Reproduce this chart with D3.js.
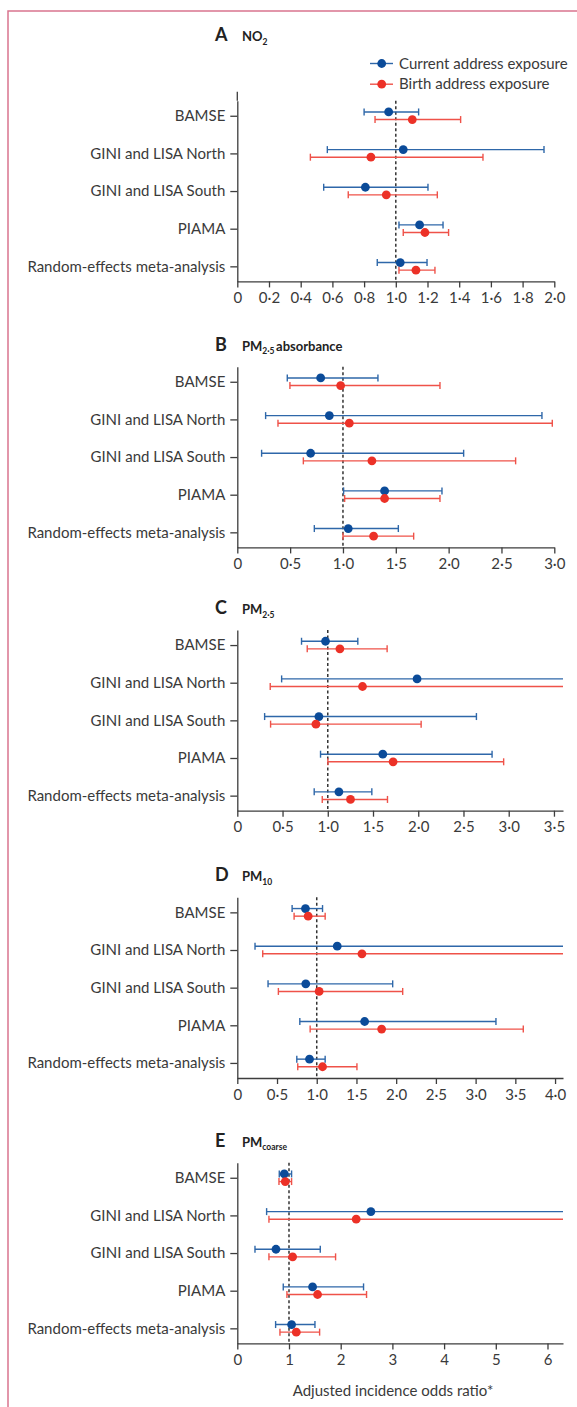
<!DOCTYPE html>
<html>
<head>
<meta charset="utf-8">
<script src="https://cdn.jsdelivr.net/npm/d3@7"></script>
<style>
  body { margin: 0; background: #fff; }
  svg { display: block; font-family: Lato, 'Open Sans', sans-serif; }
</style>
</head>
<body>
<script>
/* global d3 */

const categories = [
  'BAMSE',
  'GINI and LISA North',
  'GINI and LISA South',
  'PIAMA',
  'Random-effects meta-analysis',
];

// [odds ratio, lower CI, upper CI] per category
const no2Current = [[0.955, 0.80, 1.144], [1.047, 0.568, 1.935], [0.808, 0.545, 1.203], [1.15, 1.02, 1.298], [1.028, 0.883, 1.197]];
const no2Birth = [[1.104, 0.869, 1.409], [0.843, 0.461, 1.55], [0.94, 0.70, 1.262], [1.184, 1.047, 1.333], [1.127, 1.02, 1.247]];
const absCurrent = [[0.789, 0.473, 1.331], [0.871, 0.268, 2.883], [0.694, 0.23, 2.142], [1.394, 1.006, 1.937], [1.05, 0.729, 1.524]];
const absBirth = [[0.978, 0.498, 1.918], [1.06, 0.385, 2.981], [1.274, 0.625, 2.634], [1.394, 1.016, 1.918], [1.29, 1.0, 1.669]];
const pm25Current = [[0.975, 0.71, 1.332], [1.987, 0.49, 8.1], [0.902, 0.302, 2.643], [1.608, 0.92, 2.816], [1.123, 0.85, 1.487]];
const pm25Birth = [[1.134, 0.773, 1.656], [1.384, 0.364, 5.3], [0.869, 0.368, 2.032], [1.722, 1.001, 2.944], [1.251, 0.939, 1.66]];
const pm10Current = [[0.858, 0.69, 1.073], [1.258, 0.223, 7.1], [0.862, 0.387, 1.956], [1.603, 0.787, 3.256], [0.909, 0.749, 1.106]];
const pm10Birth = [[0.892, 0.715, 1.106], [1.569, 0.32, 7.7], [1.03, 0.517, 2.082], [1.817, 0.917, 3.6], [1.073, 0.761, 1.506]];
const coarseCurrent = [[0.909, 0.812, 1.05], [2.584, 0.567, 11.8], [0.748, 0.342, 1.605], [1.456, 0.889, 2.442], [1.05, 0.741, 1.502]];
const coarseBirth = [[0.928, 0.806, 1.05], [2.3, 0.612, 8.6], [1.07, 0.612, 1.901], [1.553, 0.96, 2.5], [1.141, 0.825, 1.592]];

const no2Ticks = [0, 0.2, 0.4, 0.6, 0.8, 1.0, 1.2, 1.4, 1.6, 1.8, 2.0];
const absTicks = [0, 0.5, 1.0, 1.5, 2.0, 2.5, 3.0];
const pm25Ticks = [0, 0.5, 1.0, 1.5, 2.0, 2.5, 3.0, 3.5];
const pm10Ticks = [0, 0.5, 1.0, 1.5, 2.0, 2.5, 3.0, 3.5, 4.0];
const coarseTicks = [0, 1, 2, 3, 4, 5, 6];

const legendLabels = ['Current address exposure', 'Birth address exposure'];
const xLabel = 'Adjusted incidence odds ratio*';

const width = 577;
const height = 1407;
const left = 237.3;
const plotH = 180.7;
const textColor = '#3a3a3a';
const axisColor = '#3d3d3d';
const blue = { dot: '#0b4b99', line: '#2e67a9' };
const red = { dot: '#ec3127', line: '#ef5249' };

// lancet style decimal point
const dotFmt = d => (d === 0 ? '0' : d.toFixed(1).replace('.', '\u00b7'));
const intFmt = d => `${d}`;

const panels = [
  { letter: 'A', name: [['NO', 0], ['2', 1]], current: no2Current, birth: no2Birth, domain: [0, 2.0], ticks: no2Ticks, fmt: dotFmt, top: 100.7, right: 554.3, titleY: 41, legend: true },
  { letter: 'B', name: [['PM', 0], ['2\u00b75', 1], ['absorbance', 0]], current: absCurrent, birth: absBirth, domain: [0, 3.0], ticks: absTicks, fmt: dotFmt, top: 366.7, right: 554.3 },
  { letter: 'C', name: [['PM', 0], ['2\u00b75', 1]], current: pm25Current, birth: pm25Birth, domain: [0, 3.6], ticks: pm25Ticks, fmt: dotFmt, top: 630, right: 563 },
  { letter: 'D', name: [['PM', 0], ['10', 1]], current: pm10Current, birth: pm10Birth, domain: [0, 4.1], ticks: pm10Ticks, fmt: dotFmt, top: 897.3, right: 563 },
  { letter: 'E', name: [['PM', 0], ['coarse', 1]], current: coarseCurrent, birth: coarseBirth, domain: [0, 6.3], ticks: coarseTicks, fmt: intFmt, top: 1162.7, right: 563, xLabel: true },
];

const svg = d3.select('body').append('svg')
  .attr('width', width)
  .attr('height', height);

// pink page frame (only top and left edges are visible)
svg.append('path')
  .attr('d', `M8,${height}V11H${width}`)
  .attr('fill', 'none')
  .attr('stroke', '#d9748f')
  .attr('stroke-width', 1.5);

const drawSeries = function drawSeries(g, x, y, data, offset, color) {
  const maxX = x.domain()[1];
  const rows = data.map((d, i) => ({
    cat: categories[i], est: d[0], lo: d[1], hi: d[2],
  }));
  const s = g.append('g');
  const cy = d => y(d.cat) + offset;

  s.selectAll('line.ci')
    .data(rows)
    .enter().append('line')
    .attr('class', 'ci')
    .attr('x1', d => x(d.lo))
    .attr('x2', d => x(Math.min(d.hi, maxX)))
    .attr('y1', cy)
    .attr('y2', cy)
    .attr('stroke', color.line)
    .attr('stroke-width', 1.4);

  const caps = [];
  rows.forEach((d) => {
    caps.push({ cat: d.cat, v: d.lo });
    if (d.hi <= maxX) caps.push({ cat: d.cat, v: d.hi });
  });
  s.selectAll('line.cap')
    .data(caps)
    .enter().append('line')
    .attr('class', 'cap')
    .attr('x1', d => x(d.v))
    .attr('x2', d => x(d.v))
    .attr('y1', d => cy(d) - 3.5)
    .attr('y2', d => cy(d) + 3.5)
    .attr('stroke', color.line)
    .attr('stroke-width', 1.4);

  s.selectAll('circle')
    .data(rows)
    .enter().append('circle')
    .attr('cx', d => x(d.est))
    .attr('cy', cy)
    .attr('r', 4.4)
    .attr('fill', color.dot);
};

panels.forEach((p) => {
  const g = svg.append('g').attr('transform', `translate(0,${p.top})`);
  const x = d3.scaleLinear().domain(p.domain).range([left, p.right]);
  const y = d3.scalePoint().domain(categories).range([0, plotH]).padding(0.4);
  const titleY = p.titleY ? p.titleY - p.top : -16;

  // title: panel letter, then pollutant with subscript
  g.append('text')
    .attr('x', 215)
    .attr('y', titleY)
    .attr('fill', '#222')
    .attr('font-weight', 'bold')
    .attr('font-size', 18)
    .text(p.letter);
  const name = g.append('text')
    .attr('x', 242)
    .attr('y', titleY)
    .attr('fill', '#222')
    .attr('font-weight', 'bold')
    .attr('font-size', 13);
  let shifted = false;
  p.name.forEach(([t, sub]) => {
    let dy = 0;
    if (sub && !shifted) dy = 3.5;
    if (!sub && shifted) dy = -3.5;
    shifted = !!sub;
    name.append('tspan')
      .attr('font-size', sub ? 8.5 : 13)
      .attr('dy', dy)
      .attr('dx', !sub && dy ? 1.5 : 0)
      .text(t);
  });

  // x axis
  const xAxis = g.append('g')
    .attr('transform', `translate(0,${plotH})`)
    .call(d3.axisBottom(x)
      .tickValues(p.ticks)
      .tickFormat(p.fmt)
      .tickSize(6)
      .tickSizeOuter(0)
      .tickPadding(5));

  // y axis
  const yAxis = g.append('g')
    .attr('transform', `translate(${left},0)`)
    .call(d3.axisLeft(y)
      .tickSize(7)
      .tickSizeOuter(0)
      .tickPadding(5));

  [xAxis, yAxis].forEach((a) => {
    a.selectAll('.domain, .tick line')
      .attr('stroke', axisColor)
      .attr('stroke-width', 1.3);
    a.selectAll('text')
      .attr('fill', textColor)
      .attr('font-family', 'Lato, sans-serif')
      .attr('font-size', 15);
  });

  if (p.legend) {
    // axis reaches up towards legend in panel A
    g.append('line')
      .attr('x1', left).attr('x2', left)
      .attr('y1', -9).attr('y2', 0)
      .attr('stroke', axisColor)
      .attr('stroke-width', 1.3);

    const lg = g.append('g').attr('transform', `translate(370,${63.5 - p.top})`);
    [blue, red].forEach((c, i) => {
      const row = lg.append('g').attr('transform', `translate(0,${i * 20.7})`);
      row.append('line')
        .attr('x1', 0).attr('x2', 23)
        .attr('stroke', c.line)
        .attr('stroke-width', 1.4);
      row.append('circle')
        .attr('cx', 11.7)
        .attr('r', 4.4)
        .attr('fill', c.dot);
      row.append('text')
        .attr('x', 29)
        .attr('dy', '0.35em')
        .attr('fill', textColor)
        .attr('font-size', 15)
        .text(legendLabels[i]);
    });
  }

  // reference line at OR = 1
  g.append('line')
    .attr('x1', x(1)).attr('x2', x(1))
    .attr('y1', 0).attr('y2', plotH)
    .attr('stroke', '#333')
    .attr('stroke-width', 1.5)
    .attr('stroke-dasharray', '3,2.5');

  drawSeries(g, x, y, p.current, -3.8, blue);
  drawSeries(g, x, y, p.birth, 3.8, red);

  if (p.xLabel) {
    g.append('text')
      .attr('x', 393)
      .attr('y', plotH + 47)
      .attr('dy', '0.35em')
      .attr('text-anchor', 'middle')
      .attr('fill', textColor)
      .attr('font-size', 15)
      .text(xLabel);
  }
});
</script>
</body>
</html>
